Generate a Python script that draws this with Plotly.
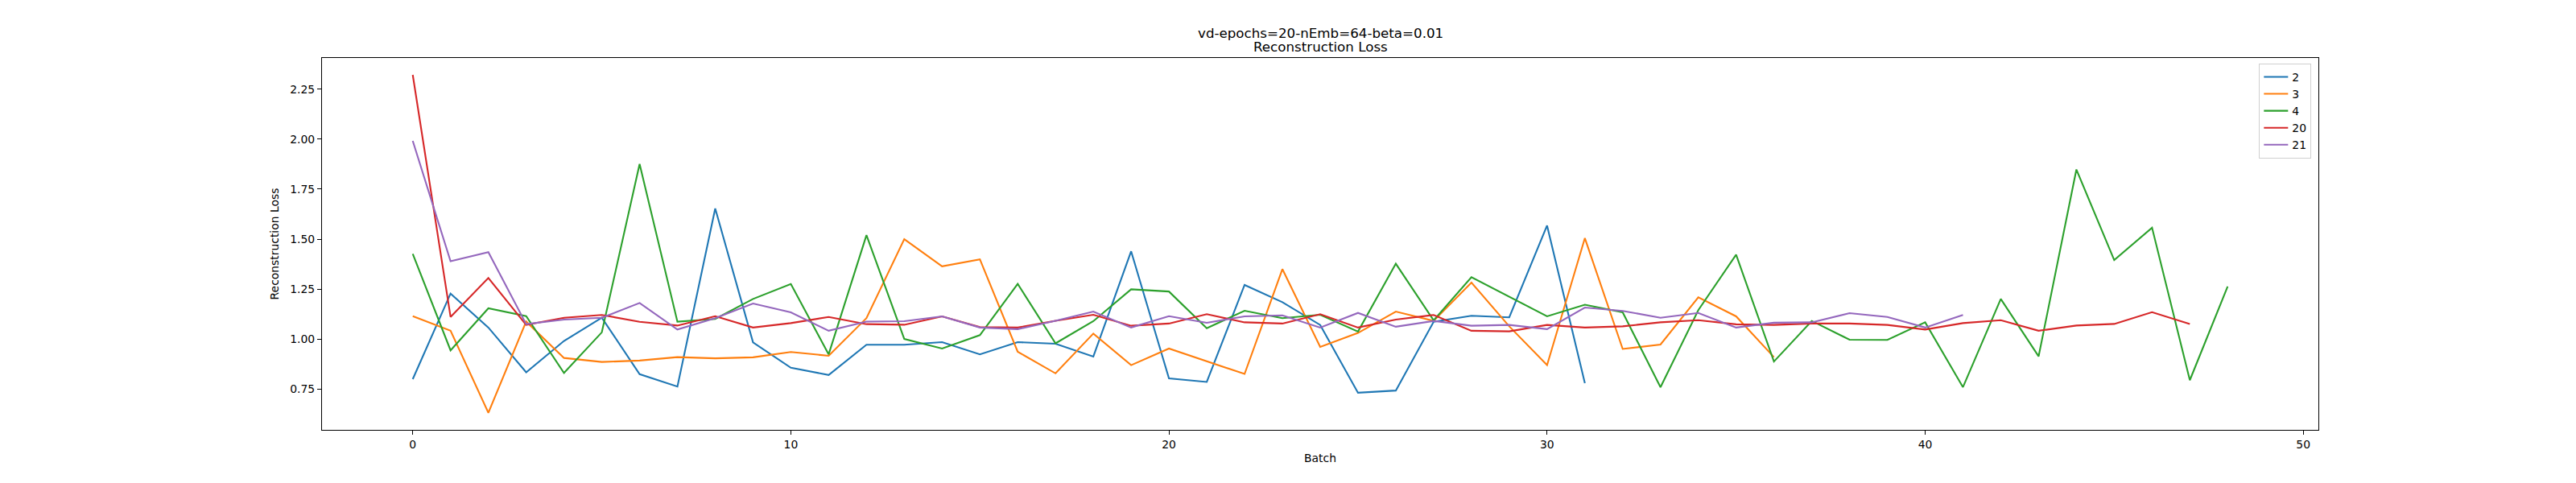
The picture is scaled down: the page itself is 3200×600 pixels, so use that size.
import plotly.graph_objects as go

# reconstruction loss per batch, one list per run
loss_2 = [0.800, 1.228, 1.058, 0.834, 0.991, 1.107, 0.825, 0.763, 1.653, 0.984,
          0.857, 0.821, 0.972, 0.972, 0.985, 0.924, 0.985, 0.977, 0.913, 1.439,
          0.804, 0.786, 1.271, 1.185, 1.071, 0.732, 0.743, 1.087, 1.117, 1.109,
          1.568, 0.780]
loss_3 = [1.115, 1.042, 0.632, 1.088, 0.906, 0.886, 0.893, 0.910, 0.904, 0.909,
          0.936, 0.917, 1.105, 1.500, 1.364, 1.399, 0.937, 0.829, 1.028, 0.870,
          0.953, 0.890, 0.826, 1.350, 0.961, 1.031, 1.138, 1.091, 1.283, 1.064,
          0.870, 1.505, 0.951, 0.973, 1.209, 1.114, 0.910]
loss_4 = [1.426, 0.944, 1.154, 1.115, 0.831, 1.034, 1.875, 1.087, 1.101, 1.201,
          1.276, 0.924, 1.520, 1.001, 0.953, 1.020, 1.276, 0.979, 1.090, 1.249,
          1.238, 1.055, 1.142, 1.105, 1.122, 1.038, 1.377, 1.094, 1.310, 1.212,
          1.114, 1.172, 1.134, 0.760, 1.145, 1.422, 0.888, 1.091, 0.997, 0.996,
          1.084, 0.760, 1.201, 0.914, 1.848, 1.395, 1.557, 0.795, 1.263]
loss_20 = [2.321, 1.111, 1.306, 1.071, 1.107, 1.121, 1.087, 1.068, 1.115, 1.058,
           1.080, 1.111, 1.075, 1.072, 1.114, 1.060, 1.058, 1.092, 1.122, 1.067,
           1.078, 1.125, 1.084, 1.078, 1.125, 1.058, 1.098, 1.121, 1.042, 1.039,
           1.071, 1.058, 1.064, 1.084, 1.095, 1.074, 1.071, 1.078, 1.078, 1.071,
           1.048, 1.080, 1.095, 1.042, 1.068, 1.076, 1.135, 1.076]
loss_21 = [1.991, 1.389, 1.435, 1.075, 1.098, 1.107, 1.181, 1.048, 1.105, 1.178,
           1.134, 1.042, 1.088, 1.090, 1.114, 1.058, 1.050, 1.092, 1.138, 1.058,
           1.115, 1.082, 1.114, 1.119, 1.058, 1.131, 1.062, 1.091, 1.067, 1.071,
           1.050, 1.158, 1.141, 1.107, 1.131, 1.058, 1.082, 1.084, 1.130, 1.111,
           1.058, 1.121]

names = ["2", "3", "4", "20", "21"]
series = [loss_2, loss_3, loss_4, loss_20, loss_21]
colors = ["#1f77b4", "#ff7f0e", "#2ca02c", "#d62728", "#9467bd"]

title_lines = ["vd-epochs=20-nEmb=64-beta=0.01", "Reconstruction Loss"]

x_ticks = [0, 10, 20, 30, 40, 50]
y_ticks = [0.75, 1.00, 1.25, 1.50, 1.75, 2.00, 2.25]

fig = go.Figure()
for name, vals, c in zip(names, series, colors):
    fig.add_trace(go.Scatter(x=list(range(len(vals))), y=vals, mode="lines",
                             name=name, line=dict(color=c, width=2.1)))

# two-line title as two annotations so each line sits where it should
for line, shift in zip(title_lines, [31, 14]):
    fig.add_annotation(text=line, x=0.5, y=1, xref="paper", yref="paper",
                       xanchor="center", yanchor="middle", yshift=shift,
                       showarrow=False, font=dict(size=16.7, color="black"))

axis_style = dict(showline=True, linecolor="black", linewidth=1.1, mirror=True,
                  ticks="outside", ticklen=5, tickwidth=1.1, tickcolor="black",
                  showgrid=False, zeroline=False,
                  tickfont=dict(size=13.9, color="black"))

# page body keeps its default 8px margin, so the figure is 8px smaller
# and the left/top margins are 8px less
fig.update_layout(
    width=3192, height=592,
    margin=dict(l=392, r=320, t=64, b=66),
    paper_bgcolor="white", plot_bgcolor="white",
    font=dict(family="DejaVu Sans", color="black"),
    legend=dict(x=0.9965, y=0.985, xanchor="right", yanchor="top",
                bordercolor="#d0d0d0", borderwidth=1, bgcolor="white",
                font=dict(size=13.9), tracegroupgap=0),
    showlegend=True,
)
fig.update_xaxes(range=[-2.4, 50.4], tickvals=x_ticks,
                 title=dict(text="Batch", font=dict(size=13.9), standoff=5),
                 **axis_style)
fig.update_yaxes(range=[0.5465, 2.4055], tickvals=y_ticks, tickformat=".2f",
                 title=dict(text="Reconstruction Loss", font=dict(size=13.9), standoff=10),
                 **axis_style)

fig.write_html("out.html")
